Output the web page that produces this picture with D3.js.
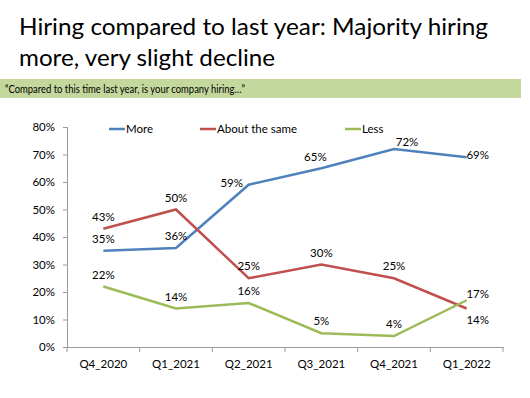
<!DOCTYPE html>
<html>
<head>
<meta charset="utf-8">
<script src="https://cdn.jsdelivr.net/npm/d3@7"></script>
<style>
  body { margin: 0; background: #fff; }
  text { font-family: Lato, "Open Sans", sans-serif; }
</style>
</head>
<body>
<div id="chart"></div>
<script>
var quarters = ["Q4_2020", "Q1_2021", "Q2_2021", "Q3_2021", "Q4_2021", "Q1_2022"];
var moreValues = [35, 36, 59, 65, 72, 69];
var sameValues = [43, 50, 25, 30, 25, 14];
var lessValues = [22, 14, 16, 5, 4, 17];
var yTicks = [0, 10, 20, 30, 40, 50, 60, 70, 80];

var series = [
    { name: "More", values: moreValues, color: "#4f81bd" },
    { name: "About the same", values: sameValues, color: "#c0504d" },
    { name: "Less", values: lessValues, color: "#9bbb59" }
];

// label offsets (px) for points where the label isn't simply above
var labelShift = {
    "More-2": [-17, 2],
    "More-3": [-6, -7],
    "More-4": [13, -3],
    "More-5": [11, 2],
    "About the same-5": [11, 15],
    "Less-5": [11, -2]
};

var width = 530, height = 398;
var margin = { left: 67, right: 27, top: 127, bottom: 51 };

var svg = d3.select("#chart")
    .append("svg")
    .attr("width", width)
    .attr("height", height);

// title
svg.append("text")
    .attr("x", 19).attr("y", 35)
    .attr("font-size", 24)
    .attr("textLength", 469)
    .attr("lengthAdjust", "spacingAndGlyphs")
    .attr("fill", "#000")
    .text("Hiring compared to last year: Majority hiring");
svg.append("text")
    .attr("x", 19).attr("y", 66)
    .attr("font-size", 24)
    .attr("textLength", 256)
    .attr("lengthAdjust", "spacingAndGlyphs")
    .attr("fill", "#000")
    .text("more, very slight decline");

// question band
svg.append("rect")
    .attr("x", 0).attr("y", 79)
    .attr("width", 521).attr("height", 19)
    .attr("fill", "#c4d79c");
svg.append("text")
    .attr("x", 5).attr("y", 93)
    .attr("font-size", 12)
    .attr("textLength", 240)
    .attr("lengthAdjust", "spacingAndGlyphs")
    .attr("fill", "#000")
    .text("\u201CCompared to this time last year, is your company hiring\u2026\u201D");

var x = d3.scaleBand()
    .domain(quarters)
    .range([margin.left, width - margin.right]);

var y = d3.scaleLinear()
    .domain([0, 80])
    .range([height - margin.bottom, margin.top]);

// y axis
var yAxis = svg.append("g")
    .attr("transform", "translate(" + margin.left + ",0)")
    .call(d3.axisLeft(y).tickValues(yTicks).tickSize(4).tickPadding(8)
        .tickFormat(function(d) { return d + "%"; }));
yAxis.selectAll("line, path").attr("stroke", "#9a9a9a");
yAxis.selectAll("text").attr("font-size", 11.5).attr("fill", "#000")
    .style("font-family", "Lato, sans-serif");

// x axis
var xAxis = svg.append("g")
    .attr("transform", "translate(0," + (height - margin.bottom) + ")")
    .call(d3.axisBottom(x).tickSize(0).tickPadding(13));
xAxis.selectAll("path").attr("stroke", "#9a9a9a");
xAxis.selectAll("text").attr("font-size", 11.5).attr("fill", "#000")
    .style("font-family", "Lato, sans-serif");
// tick marks at band edges
var edges = quarters.map(function(q) { return x(q); }).concat([x.range()[1]]);
svg.selectAll(".xedge")
    .data(edges)
    .enter()
    .append("line")
    .attr("class", "xedge")
    .attr("x1", function(d) { return d; })
    .attr("x2", function(d) { return d; })
    .attr("y1", height - margin.bottom)
    .attr("y2", height - margin.bottom + 5)
    .attr("stroke", "#9a9a9a");

var line = d3.line()
    .x(function(d, i) { return x(quarters[i]) + x.bandwidth() / 2; })
    .y(function(d) { return y(d); });

series.forEach(function(s) {
    svg.append("path")
        .datum(s.values)
        .attr("fill", "none")
        .attr("stroke", s.color)
        .attr("stroke-width", 2.5)
        .attr("d", line);
});

// data labels
series.forEach(function(s) {
    svg.selectAll(null)
        .data(s.values)
        .enter()
        .append("text")
        .attr("text-anchor", "middle")
        .attr("font-size", 11.5)
        .attr("fill", "#000")
        .attr("x", function(d, i) {
            var sh = labelShift[s.name + "-" + i] || [0, 0];
            return x(quarters[i]) + x.bandwidth() / 2 + sh[0];
        })
        .attr("y", function(d, i) {
            var sh = labelShift[s.name + "-" + i];
            if (sh) return y(d) + sh[1];
            return y(d) - 8;
        })
        .text(function(d) { return d + "%"; });
});

// legend
var legendX = [109, 200, 345];
series.forEach(function(s, i) {
    svg.append("line")
        .attr("x1", legendX[i]).attr("x2", legendX[i] + 16)
        .attr("y1", 129).attr("y2", 129)
        .attr("stroke", s.color)
        .attr("stroke-width", 2.5);
    svg.append("text")
        .attr("x", legendX[i] + 17).attr("y", 133)
        .attr("font-size", 11.5)
        .attr("fill", "#000")
        .text(s.name);
});
</script>
</body>
</html>
